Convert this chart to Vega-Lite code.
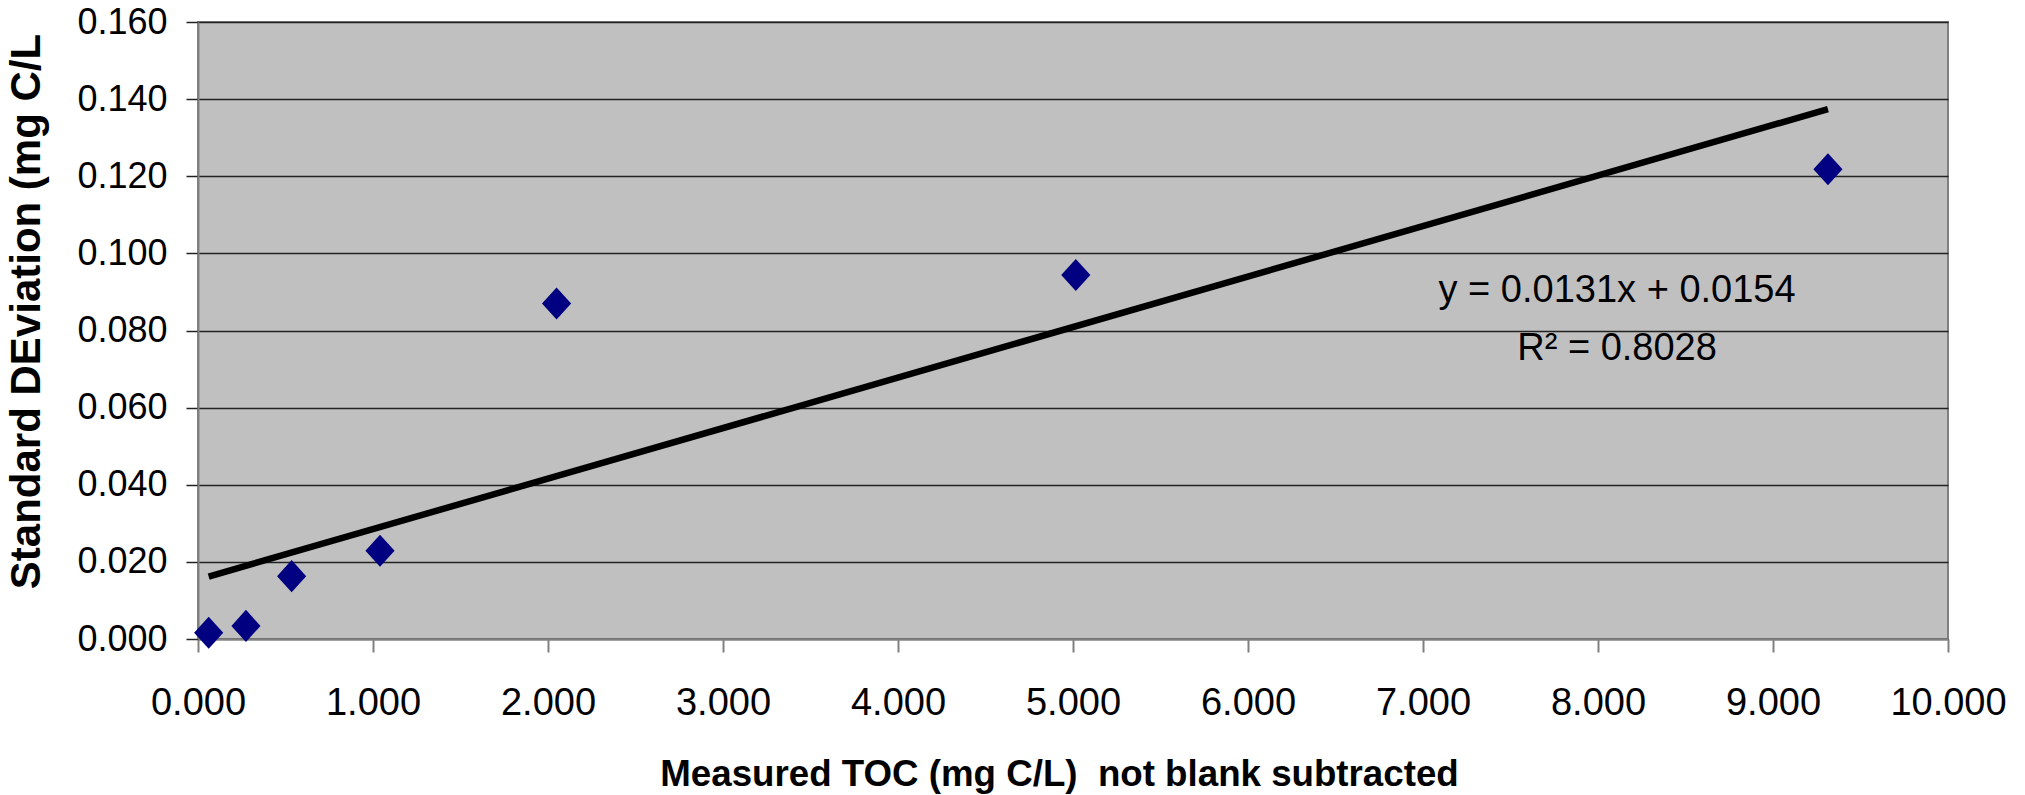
{
  "$schema": "https://vega.github.io/schema/vega-lite/v6.json",
  "width": 1750,
  "height": 617,
  "autosize": "none",
  "padding": {"left": 198, "top": 22, "right": 77, "bottom": 156},
  "background": "white",
  "config": {
    "view": {"fill": "#C0C0C0", "stroke": "#808080", "strokeWidth": 2},
    "font": "Liberation Sans"
  },
  "datasets": {
    "points": [
      {"toc": 0.061, "sd": 0.0016},
      {"toc": 0.274, "sd": 0.0034},
      {"toc": 0.535, "sd": 0.0163},
      {"toc": 1.04, "sd": 0.0229},
      {"toc": 2.049, "sd": 0.0870},
      {"toc": 5.016, "sd": 0.0944},
      {"toc": 9.314, "sd": 0.1218}
    ],
    "trend": [
      {"toc": 0.061, "sd": 0.0162},
      {"toc": 9.314, "sd": 0.1374}
    ],
    "labels": [
      {"toc": 8.109, "sd": 0.0875, "text": "y = 0.0131x + 0.0154"},
      {"toc": 8.109, "sd": 0.0724, "text": "R² = 0.8028"}
    ]
  },
  "layer": [
    {
      "data": {"name": "points"},
      "mark": {"type": "point", "shape": "M-1,0L0,-1.1L1,0L0,1.1Z", "filled": true, "color": "#000080", "opacity": 1, "size": 850},
      "encoding": {
        "x": {
          "field": "toc", "type": "quantitative",
          "scale": {"domain": [0, 10], "nice": false, "zero": false},
          "axis": {
            "values": [0, 1, 2, 3, 4, 5, 6, 7, 8, 9, 10],
            "format": ".3f",
            "grid": false,
            "labelFlush": false, "labelOverlap": false,
            "domainColor": "#808080", "domainWidth": 2,
            "tickColor": "#808080", "tickWidth": 2, "tickSize": 13,
            "labelFont": "Liberation Sans", "labelFontSize": 38, "labelColor": "black",
            "labelPadding": 32,
            "title": "Measured TOC (mg C/L)\u00a0 not blank subtracted",
            "titleFont": "Liberation Sans", "titleFontSize": 36.7, "titleFontWeight": "bold", "titleColor": "black",
            "titleBaseline": "alphabetic", "titleX": 861, "titleY": 146, "titleAnchor": "middle"
          }
        },
        "y": {
          "field": "sd", "type": "quantitative",
          "scale": {"domain": [0, 0.16], "nice": false, "zero": false},
          "axis": {
            "values": [0, 0.02, 0.04, 0.06, 0.08, 0.1, 0.12, 0.14, 0.16],
            "format": ".3f",
            "grid": true, "gridColor": "#222222", "gridWidth": 1.5,
            "labelOverlap": false, "labelFlush": false,
            "domainColor": "#808080", "domainWidth": 2,
            "tickColor": "#222222", "tickWidth": 1.5, "tickSize": 12,
            "labelFont": "Liberation Sans", "labelFontSize": 36, "labelColor": "black",
            "labelPadding": 19,
            "title": "Standard DEviation (mg C/L",
            "titleFont": "Liberation Sans", "titleFontSize": 42, "titleFontWeight": "bold", "titleColor": "black",
            "titleAngle": -90, "titleBaseline": "bottom", "titleX": -150, "titleY": 289, "titleAnchor": "middle"
          }
        }
      }
    },
    {
      "data": {"name": "trend"},
      "mark": {"type": "line", "color": "black", "strokeWidth": 6.5},
      "encoding": {
        "x": {"field": "toc", "type": "quantitative"},
        "y": {"field": "sd", "type": "quantitative"}
      }
    },
    {
      "data": {"name": "labels"},
      "mark": {"type": "text", "font": "Liberation Sans", "fontSize": 38, "color": "black", "align": "center", "baseline": "alphabetic"},
      "encoding": {
        "x": {"field": "toc", "type": "quantitative"},
        "y": {"field": "sd", "type": "quantitative"},
        "text": {"field": "text"}
      }
    }
  ]
}
